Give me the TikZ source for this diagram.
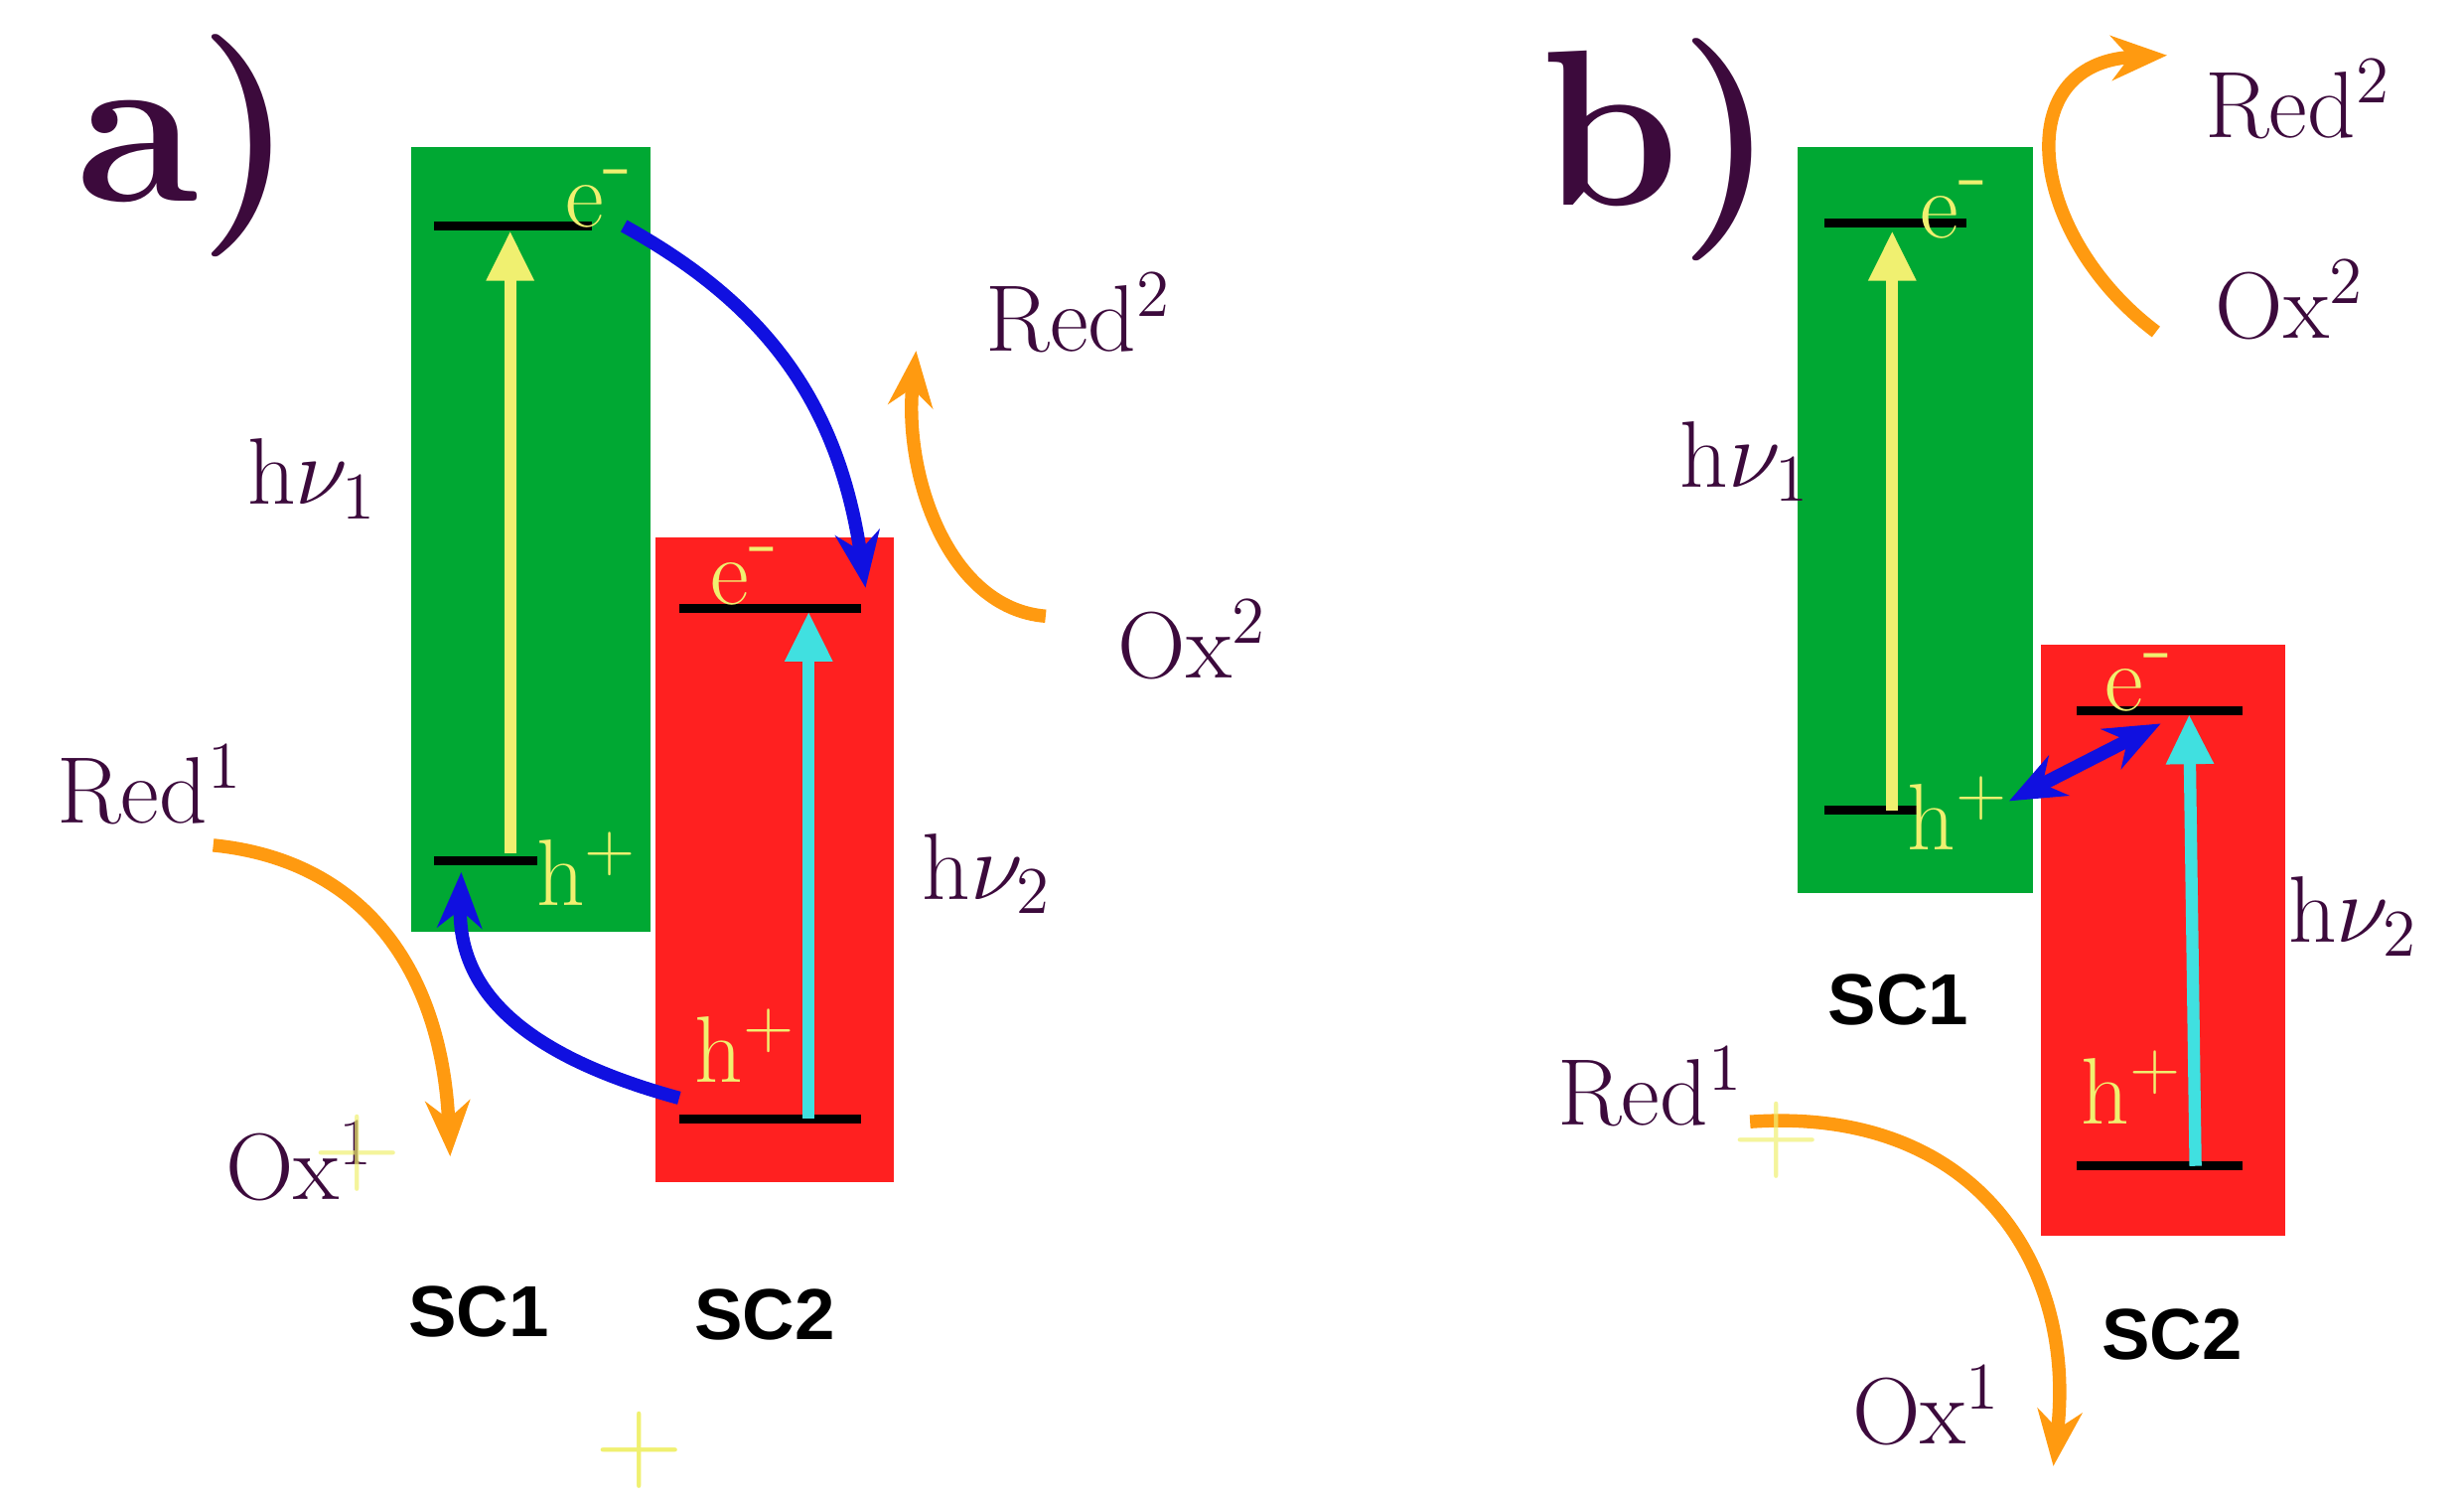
\documentclass[tikz,border=0pt]{standalone}
\usepackage{fontspec}
\newfontfamily\sclab{Liberation Sans}
\usetikzlibrary{arrows.meta}
\definecolor{gr}{HTML}{00A833}
\definecolor{rd}{HTML}{FF2020}
\definecolor{tx}{HTML}{3C0A3C}
\definecolor{ye}{HTML}{F0F070}
\definecolor{cy}{HTML}{40E0E0}
\definecolor{bl}{HTML}{1010E0}
\definecolor{or}{HTML}{FF9A10}
\tikzset{
 lbl/.style={text=tx,font=\fontsize{17}{19}\selectfont,inner sep=0pt},
 big/.style={text=tx,font=\fontsize{40}{44}\selectfont\bfseries,inner sep=0pt},
 yl/.style={text=ye,font=\fontsize{17}{19}\selectfont,inner sep=0pt},
 sc/.style={font=\sclab\bfseries\fontsize{13}{15}\selectfont,inner sep=0pt},
 lev/.style={black,line width=1.6pt},
 pump/.style={line width=2.2pt,-{Triangle[length=9pt,width=8pt]}},
 tr/.style={bl,line width=2.4pt,-{Stealth[length=10pt,width=8pt]}},
 rx/.style={or,line width=2.4pt,-{Stealth[length=10pt,width=8pt]}},
 pl/.style={ye,font=\fontsize{22}{24}\selectfont,inner sep=0pt}
}
\begin{document}
\begin{tikzpicture}[x=0.01cm,y=-0.01cm]
\useasboundingbox (0,0) rectangle (1560,950);
% ---- a)
\node[big] (la) at (118,92) {a)};
\fill[gr] (260,93) rectangle (412,590);
\fill[rd] (415,340) rectangle (566,748);
\draw[lev] (275,143) -- (375,143);
\draw[lev] (275,545) -- (340,545);
\draw[lev] (430,385) -- (545,385);
\draw[lev] (430,708) -- (545,708);
\coordinate (ay0) at (323,540); \coordinate (ay1) at (323,146);
\draw[pump,ye] (ay0) -- (ay1);
\coordinate (ac0) at (512,708); \coordinate (ac1) at (512,387);
\draw[pump,cy] (ac0) -- (ac1);
\node[yl] (ae1) at (380,126) {e$^{\mbox{-}}$};
\node[yl] (ah1) at (372,550) {h$^{+}$};
\node[yl] (ae2) at (472,365) {e$^{\mbox{-}}$};
\node[yl] (ah2) at (472,662) {h$^{+}$};
\coordinate (ab0) at (395,143); \coordinate (ab1) at (548,372);
\draw[tr] (ab0) .. controls (480,190) and (530,250) .. (ab1);
\coordinate (ab2) at (430,695); \coordinate (ab3) at (292,552);
\draw[tr] (ab2) .. controls (320,665) and (290,620) .. (ab3);
\node[lbl] (ahv1) at (198,303) {h$\nu_1$};
\node[lbl] (ahv2) at (625,553) {h$\nu_2$};
\node[lbl] (ared2) at (683,198) {Red$^2$};
\node[lbl] (aox2) at (755,405) {Ox$^2$};
\node[lbl] (ared1) at (95,497) {Red$^1$};
\node[lbl] (aox1) at (190,735) {Ox$^1$};
\coordinate (ao0) at (662,390); \coordinate (ao1) at (580,222);
\draw[rx] (ao0) .. controls (600,385) and (572,300) .. (ao1);
\coordinate (ao2) at (135,535); \coordinate (ao3) at (285,732);
\draw[rx] (ao2) .. controls (235,545) and (280,620) .. (ao3);
\node[sc] (asc1) at (303,830) {SC1};
\node[sc] (asc2) at (484,832) {SC2};
\node[pl] (ap1) at (405,918) {+};
\node[pl,opacity=0.7] (ap2) at (226,730) {+};
% ---- b)
\node[big] (lb) at (1050,95) {b)};
\fill[gr] (1138,93) rectangle (1287,565);
\fill[rd] (1292,408) rectangle (1447,782);
\draw[lev] (1155,141) -- (1245,141);
\draw[lev] (1155,513) -- (1215,513);
\draw[lev] (1315,450) -- (1420,450);
\draw[lev] (1315,738) -- (1420,738);
\coordinate (by0) at (1198,513); \coordinate (by1) at (1198,146);
\draw[pump,ye] (by0) -- (by1);
\coordinate (bc0) at (1390,738); \coordinate (bc1) at (1386,452);
\draw[pump,cy] (bc0) -- (bc1);
\node[yl] (be1) at (1238,133) {e$^{\mbox{-}}$};
\node[yl] (bh1) at (1240,515) {h$^{+}$};
\node[yl] (be2) at (1355,432) {e$^{\mbox{-}}$};
\node[yl] (bh2) at (1350,688) {h$^{+}$};
\coordinate (bb0) at (1272,507); \coordinate (bb1) at (1368,458);
\draw[bl,line width=2.4pt,{Stealth[length=10pt,width=8pt]}-{Stealth[length=10pt,width=8pt]}] (bb0) -- (bb1);
\node[lbl] (bhv1) at (1105,292) {h$\nu_1$};
\node[lbl] (bhv2) at (1490,580) {h$\nu_2$};
\node[lbl] (bred2) at (1455,63) {Red$^2$};
\node[lbl] (box2) at (1450,190) {Ox$^2$};
\node[lbl] (bred1) at (1045,688) {Red$^1$};
\node[lbl] (box1) at (1220,890) {Ox$^1$};
\coordinate (bo0) at (1365,210); \coordinate (bo1) at (1372,35);
\draw[rx] (bo0) .. controls (1285,150) and (1270,40) .. (bo1);
\coordinate (bo2) at (1108,710); \coordinate (bo3) at (1300,928);
\draw[rx] (bo2) .. controls (1250,700) and (1315,800) .. (bo3);
\node[sc] (bsc1) at (1202,633) {SC1};
\node[sc] (bsc2) at (1375,845) {SC2};
\node[pl,opacity=0.7] (bp1) at (1125,722) {+};
\end{tikzpicture}
\end{document}
